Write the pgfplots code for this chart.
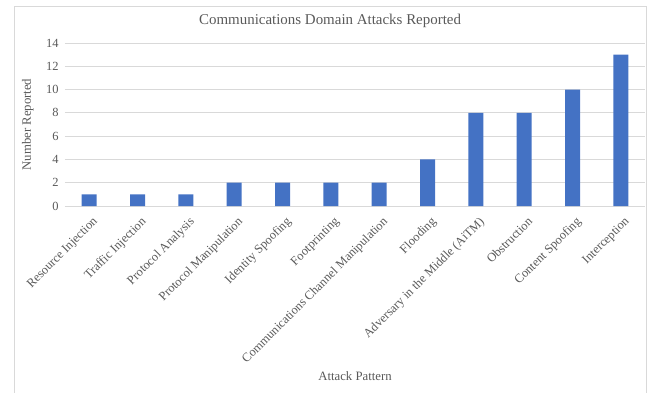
\documentclass[border=0pt]{standalone}
\usepackage{pgfplots}
\pgfplotsset{compat=1.18}
\usepackage{fontspec}
\setmainfont{Liberation Serif}
\definecolor{barblue}{HTML}{4472C4}
\definecolor{txtgray}{HTML}{595959}
\definecolor{gridgray}{HTML}{D9D9D9}
\pgfplotstableread{
x y
0 1
1 1
2 1
3 2
4 2
5 2
6 2
7 4
8 8
9 8
10 10
11 13
}\attacks
\begin{document}
\begin{tikzpicture}[x=1bp,y=1bp]
\useasboundingbox (-65,-186) rectangle (593,206);
\draw[gridgray, line width=0.75bp] (-51,200) rectangle (581,-190);
\begin{axis}[
  at={(0,0)}, anchor=south west,
  width=580bp, height=163bp, scale only axis,
  ymin=0, ymax=14, ytick={0,2,...,14},
  xmin=-0.5, xmax=11.5,
  xtick=data,
  xticklabels={Resource Injection, Traffic Injection, Protocol Analysis, Protocol Manipulation, Identity Spoofing, Footprinting, Communications Channel Manipulation, Flooding, Adversary in the Middle (AiTM), Obstruction, Content Spoofing, Interception},
  axis line style={draw=none},
  major tick length=0pt,
  ymajorgrids, grid style={gridgray, line width=0.75bp},
  /pgf/number format/assume math mode=true,
  ticklabel style={font=\fontsize{12.5}{14}\selectfont, text=txtgray},
  yticklabel style={xshift=-3bp},
  xticklabel style={rotate=45, anchor=north east, inner sep=1bp, yshift=-8bp, xshift=-4bp},
  title={Communications Domain Attacks Reported},
  title style={at={(axis description cs:0.457,1.098)}, anchor=center, font=\fontsize{15}{17}\selectfont, text=txtgray},
  xlabel={Attack Pattern},
  xlabel style={at={(axis description cs:0.5,-1.043)}, anchor=center, font=\fontsize{12.8}{14}\selectfont, text=txtgray},
  ylabel={Number Reported},
  ylabel style={at={(axis description cs:-0.064,0.5)}, anchor=center, font=\fontsize{12.8}{14}\selectfont, text=txtgray},
]
\addplot[ybar, bar width=15bp, fill=barblue, draw=none] table[x=x, y=y] {\attacks};
\end{axis}
\end{tikzpicture}
\end{document}
